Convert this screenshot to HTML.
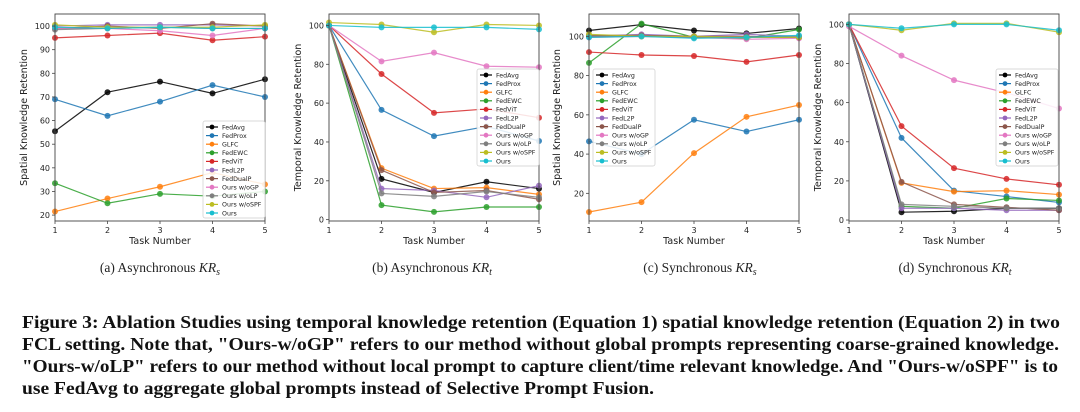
<!DOCTYPE html>
<html><head><meta charset="utf-8">
<style>
html,body{margin:0;padding:0;background:#fff;}
svg{display:block;}
</style></head>
<body>
<svg id="fig" width="1080" height="412" viewBox="0 0 1080 412" xmlns="http://www.w3.org/2000/svg" font-family="'DejaVu Sans', 'Liberation Sans', sans-serif">
<g id="charts"></g>
<g font-family="'Liberation Serif', serif" font-size="13.5" fill="#222">
<text x="160" y="272" text-anchor="middle">(a)  Asynchronous <tspan font-style="italic">KR</tspan><tspan font-style="italic" font-size="10" dy="3">s</tspan></text>
<text x="432" y="272" text-anchor="middle">(b)  Asynchronous <tspan font-style="italic">KR</tspan><tspan font-style="italic" font-size="10" dy="3">t</tspan></text>
<text x="700" y="272" text-anchor="middle">(c)  Synchronous <tspan font-style="italic">KR</tspan><tspan font-style="italic" font-size="10" dy="3">s</tspan></text>
<text x="955" y="272" text-anchor="middle">(d)  Synchronous <tspan font-style="italic">KR</tspan><tspan font-style="italic" font-size="10" dy="3">t</tspan></text>
</g>
<g font-family="'Liberation Serif', serif" font-size="17.5" font-weight="bold" fill="#111">
<text x="22" y="328" textLength="1038" lengthAdjust="spacingAndGlyphs">Figure 3: Ablation Studies using temporal knowledge retention (Equation 1) spatial knowledge retention (Equation 2) in two</text>
<text x="22" y="350" textLength="1037" lengthAdjust="spacingAndGlyphs">FCL setting. Note that, "Ours-w/oGP" refers to our method without global prompts representing coarse-grained knowledge.</text>
<text x="22" y="372" textLength="1036" lengthAdjust="spacingAndGlyphs">"Ours-w/oLP" refers to our method without local prompt to capture client/time relevant knowledge. And "Ours-w/oSPF" is to</text>
<text x="22" y="394" textLength="632" lengthAdjust="spacingAndGlyphs">use FedAvg to aggregate global prompts instead of Selective Prompt Fusion.</text>
</g>
</svg>
<script>
const tasks = [1,2,3,4,5];
const seriesNames = ["FedAvg","FedProx","GLFC","FedEWC","FedViT","FedL2P","FedDualP","Ours w/oGP","Ours w/oLP","Ours w/oSPF","Ours"];
const seriesColors = ["#000000","#1f77b4","#ff7f0e","#2ca02c","#d62728","#9467bd","#8c564b","#e377c2","#7f7f7f","#bcbd22","#17becf"];
// (a) Asynchronous KRs
const asyncSpatial = [
 [55.5,72,76.5,71.5,77.5],[69,62,68,75,70],[21.5,27,32,38,33],[33.5,25,29,28,30],
 [95,96,97,94,95.5],[100,100.5,100.5,100.5,100],[99,100,99,101,100],[99,99,98,96,99],
 [98.5,99,99.5,99,99],[100.5,99.5,99.5,99.5,100.5],[99.5,99,99.5,99,99]];
// (b) Asynchronous KRt
const asyncTemporal = [
 [100,21,14,19.5,16],[100,56.5,43,48,40.5],[100,26.5,16,16.5,13],[100,7.5,4,6.5,6.5],
 [100,75,55,57,52.5],[100,16,15,11.5,17.5],[100,25.5,14,15,10.5],[100,81.5,86,79,78.5],
 [100,13.5,12,14.5,11.5],[101.5,100.5,96.5,100.5,100],[100,99,99,99,98]];
// (c) Synchronous KRs
const syncSpatial = [
 [103,106,103,101.5,104],[46.5,40,57.5,51.5,57.5],[10.5,15.5,40.5,59,65],[86.5,106.5,99.5,99,103.5],
 [92,90.5,90,87,90.5],[100,101,100,101,100],[100.5,100.5,100,100,99.5],[99.5,100,99.5,98.5,99],
 [100,100,99.5,99.5,99.5],[101,100,100,99.5,99.5],[99.5,100,99,99.5,100.5]];
// (d) Synchronous KRt
const syncTemporal = [
 [100,4,4.5,6,6],[100,42,15,12,9],[100,19,14.5,15,13],[100,7,6,11,10],
 [100,48,26.5,21,18],[100,6,6,5,5],[100,19.5,8,6.5,5],[99,84,71.5,65,57],
 [100,8,7,6,6],[100,97,100.5,100.5,96],[100,98,100,100,97]];
const yTicksA = [20,30,40,50,60,70,80,90,100];
const yTicksB = [0,20,40,60,80,100];
const yTicksC = [20,40,60,80,100];
const yTicksD = [0,20,40,60,80,100];

const NS = "http://www.w3.org/2000/svg";
function mk(tag, attrs, parent){const e=document.createElementNS(NS,tag);for(const k in attrs)e.setAttribute(k,attrs[k]);if(parent)parent.appendChild(e);return e;}

const panels = [
 {id:"a", data:asyncSpatial, ticks:yTicksA, left:55, right:265, ymin:17.5, ymax:105.1, title:"Spatial Knowledge Retention", titleX:27, leg:{x:203,y:121}},
 {id:"b", data:asyncTemporal, ticks:yTicksB, left:329, right:539, ymin:-0.7, ymax:105.9, title:"Temporal Knowledge Retention", titleX:301, leg:{x:477,y:69}},
 {id:"c", data:syncSpatial, ticks:yTicksC, left:589, right:799, ymin:5.9, ymax:111.4, title:"Spatial Knowledge Retention", titleX:560, leg:{x:593,y:69}},
 {id:"d", data:syncTemporal, ticks:yTicksD, left:849, right:1059, ymin:-0.5, ymax:105.3, title:"Temporal Knowledge Retention", titleX:821, leg:{x:996,y:69}}
];
const TOP=14, BOT=221;
const root=document.getElementById("charts");
panels.forEach(p=>{
  const g=mk("g",{},root);
  
  
  const xs=v=>p.left+(v-1)/4*(p.right-p.left);
  const ys=v=>BOT-(v-p.ymin)/(p.ymax-p.ymin)*(BOT-TOP);
  p.data.forEach((vals,si)=>{
    const sg=mk("g",{},g);
    
    
    const pts=vals.map((v,i)=>xs(tasks[i])+","+ys(v)).join(" ");
    mk("polyline",{points:pts,fill:"none",stroke:seriesColors[si],"stroke-width":1.2,"stroke-opacity":0.85},sg);
    vals.forEach((v,i)=>{
      const c=mk("circle",{cx:xs(tasks[i]),cy:ys(v),r:3,fill:seriesColors[si],"fill-opacity":0.85},sg);
      
      
    });
  });
  const fr=mk("rect",{x:p.left,y:TOP,width:p.right-p.left,height:BOT-TOP,fill:"none",stroke:"#444","stroke-width":0.9},g);
  
  
  tasks.forEach(t=>{
    mk("line",{x1:xs(t),x2:xs(t),y1:BOT,y2:BOT+3,stroke:"#444","stroke-width":0.8},g);
    const tx=mk("text",{x:xs(t),y:BOT+12,"font-size":8,"text-anchor":"middle",fill:"#222"},g);
    tx.textContent=t;
    
    
  });
  p.ticks.forEach(t=>{
    mk("line",{x1:p.left-3,x2:p.left,y1:ys(t),y2:ys(t),stroke:"#444","stroke-width":0.8},g);
    const tx=mk("text",{x:p.left-5,y:ys(t)+3,"font-size":8,"text-anchor":"end",fill:"#222"},g);
    tx.textContent=t;
    
    
  });
  const xt=mk("text",{x:(p.left+p.right)/2,y:244,"font-size":9.5,"text-anchor":"middle",fill:"#222"},g);
  xt.textContent="Task Number";
  
  
  const yt=mk("text",{x:0,y:0,"font-size":9.5,"text-anchor":"middle",fill:"#222",transform:`translate(${p.titleX},${(TOP+BOT)/2}) rotate(-90)`},g);
  yt.textContent=p.title;
  
  
  const lg=mk("g",{},g);
  
  
  mk("rect",{x:p.leg.x,y:p.leg.y,width:62,height:97,rx:2,fill:"#fff","fill-opacity":0.85,stroke:"#ccc","stroke-width":0.7},lg);
  seriesNames.forEach((n,i)=>{
    const yy=p.leg.y+6+i*8.6;
    const le=mk("g",{},lg);
    
    
    mk("line",{x1:p.leg.x+3,x2:p.leg.x+15,y1:yy,y2:yy,stroke:seriesColors[i],"stroke-width":1.2},le);
    mk("circle",{cx:p.leg.x+9,cy:yy,r:2.4,fill:seriesColors[i]},le);
    const t=mk("text",{x:p.leg.x+19,y:yy+2.3,"font-size":6.3,fill:"#222"},le);
    t.textContent=n;
  });
});
</script>
</body></html>
